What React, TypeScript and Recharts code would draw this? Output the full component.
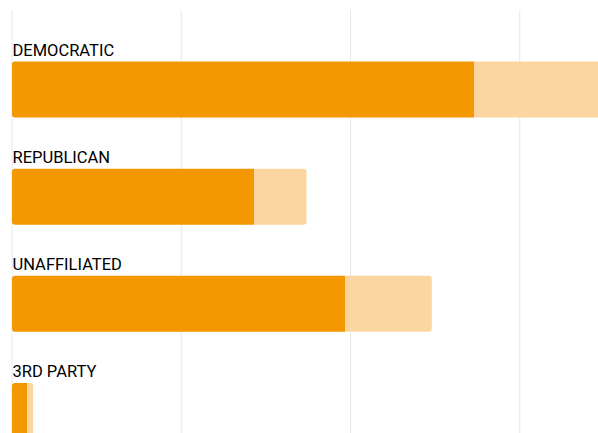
import React from "react";
import { BarChart, Bar, XAxis, YAxis, CartesianGrid, LabelList } from "recharts";

const parties = ["DEMOCRATIC", "REPUBLICAN", "UNAFFILIATED", "3RD PARTY"];
const voted = [2730, 1430, 1970, 89];
const notVoted = [920, 310, 510, 36];
const xTicks = [0, 1000, 2000, 3000, 4000];

const data = parties.map((name, i) => ({ name, voted: voted[i], notVoted: notVoted[i] }));

const PartyLabel = (props: any) => {
   const { x, y, value } = props;
   return (
      <text x={x + 0.5} y={y - 6} fontSize={16.5} fill="#000" fontFamily="Roboto, sans-serif">
         {value}
      </text>
   );
};

const App: React.FC = () => {
   return (
      <div style={{ position: "absolute", left: 0, top: 0, width: 598, height: 433, overflow: "hidden", background: "#fff" }}>
         <BarChart
            width={689}
            height={464}
            data={data}
            layout="vertical"
            margin={{ top: 10, right: 0, bottom: 0, left: 12 }}
         >
            <CartesianGrid horizontal={false} stroke="#e8e8e8" />
            <XAxis type="number" domain={[0, 4000]} ticks={xTicks} hide />
            <YAxis type="category" dataKey="name" hide width={0} padding={{ top: 25.5, bottom: 0 }} />
            <Bar dataKey="voted" stackId="a" fill="#f39800" barSize={56} radius={[3, 0, 0, 3]} isAnimationActive={false}>
               <LabelList dataKey="name" content={PartyLabel} />
            </Bar>
            <Bar dataKey="notVoted" stackId="a" fill="#fbd6a0" barSize={56} radius={[0, 3, 3, 0]} isAnimationActive={false} />
         </BarChart>
      </div>
   );
};

export default App;
